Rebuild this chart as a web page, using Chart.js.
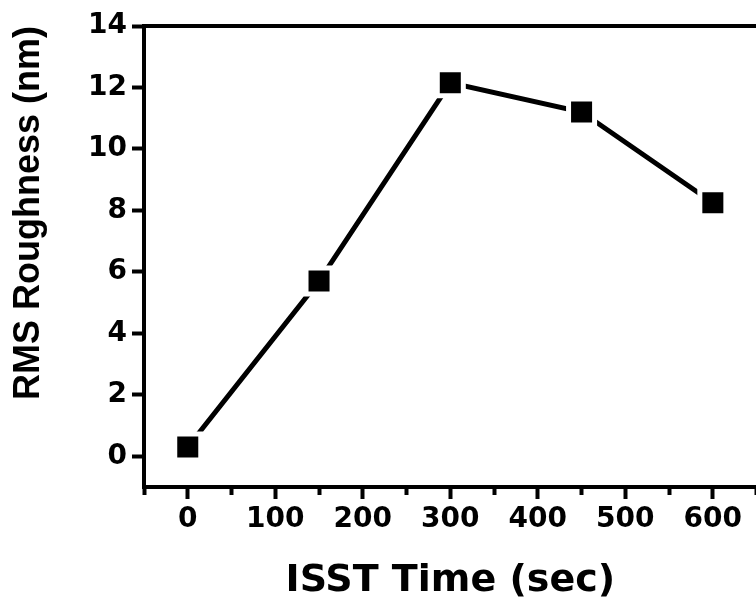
<!DOCTYPE html>
<html lang="en">
<head>
    <meta charset="UTF-8">
    <title>RMS Roughness vs ISST Time</title>
    <script src="https://cdn.jsdelivr.net/npm/chart.js"></script>
    <style>
        html, body {
            margin: 0;
            padding: 0;
            background: #fff;
            overflow: hidden;
        }
        #roughnessChart {
            display: block;
        }
    </style>
</head>
<body>
    <canvas id="roughnessChart" width="780" height="607"></canvas>

    <script>
        // ISST time (sec) and measured RMS roughness (nm)
        const isstTime = [0, 150, 300, 450, 600];
        const rmsRoughness = [0.3, 5.7, 12.15, 11.2, 8.25];

        // axis ticks: x has minor ticks every 50, labels every 100
        const xTicks = [-50, 0, 50, 100, 150, 200, 250, 300, 350, 400, 450, 500, 550, 600, 650];
        const xLabels = [0, 100, 200, 300, 400, 500, 600];
        const yTicks = [0, 2, 4, 6, 8, 10, 12, 14];

        const tickFont = { family: 'DejaVu Sans', weight: 'bold', size: 28 };

        new Chart(document.getElementById('roughnessChart'), {
            type: 'line',
            data: {
                datasets: [{
                    label: 'RMS Roughness',
                    data: isstTime.map((t, i) => ({ x: t, y: rmsRoughness[i] })),
                    borderColor: '#000',
                    borderWidth: 5,
                    tension: 0,
                    fill: false,
                    pointStyle: 'rect',
                    pointRadius: 18.4,
                    pointBackgroundColor: '#000',
                    pointBorderColor: '#fff',
                    pointBorderWidth: 5
                }]
            },
            options: {
                responsive: false,
                animation: false,
                layout: { padding: { top: 26, right: 18, bottom: 0, left: 0 } },
                plugins: {
                    legend: { display: false },
                    tooltip: { enabled: false }
                },
                scales: {
                    x: {
                        type: 'linear',
                        position: 'bottom',
                        min: -50,
                        max: 650,
                        afterBuildTicks: (s) => { s.ticks = xTicks.map(v => ({ value: v })); },
                        afterFit: (s) => { s.height = 120; },
                        border: { display: true, color: '#000', width: 4 },
                        grid: {
                            drawOnChartArea: false,
                            drawTicks: true,
                            tickLength: 12,
                            tickWidth: 4,
                            tickColor: '#000',
                            tickBorderDash: (ctx) => xLabels.includes(ctx.tick && ctx.tick.value) ? [] : [6, 40]
                        },
                        ticks: {
                            autoSkip: false,
                            maxRotation: 0,
                            padding: 4,
                            color: '#000',
                            font: tickFont,
                            callback: (v) => xLabels.includes(v) ? String(v) : ''
                        },
                        title: {
                            display: true,
                            text: 'ISST Time (sec)',
                            color: '#000',
                            font: { family: 'DejaVu Sans', weight: 'bold', size: 38 },
                            padding: { top: 0, bottom: 3 }
                        }
                    },
                    x2: {
                        type: 'linear',
                        position: 'top',
                        min: -50,
                        max: 650,
                        afterFit: (s) => { s.height = 0; },
                        border: { display: true, color: '#000', width: 4 },
                        grid: { display: false },
                        ticks: { display: false }
                    },
                    y: {
                        type: 'linear',
                        min: -1,
                        max: 14,
                        afterBuildTicks: (s) => { s.ticks = yTicks.map(v => ({ value: v })); },
                        afterFit: (s) => { s.width = 144; },
                        border: { display: true, color: '#000', width: 4 },
                        grid: {
                            drawOnChartArea: false,
                            drawTicks: true,
                            tickLength: 12,
                            tickWidth: 4,
                            tickColor: '#000'
                        },
                        ticks: {
                            padding: 5,
                            color: '#000',
                            font: tickFont
                        },
                        title: {
                            display: true,
                            text: 'RMS Roughness (nm)',
                            align: 'end',
                            color: '#000',
                            font: { family: 'Liberation Sans', weight: 'bold', size: 36 },
                            padding: { top: 7, bottom: 0 }
                        }
                    }
                }
            }
        });
    </script>
</body>
</html>
